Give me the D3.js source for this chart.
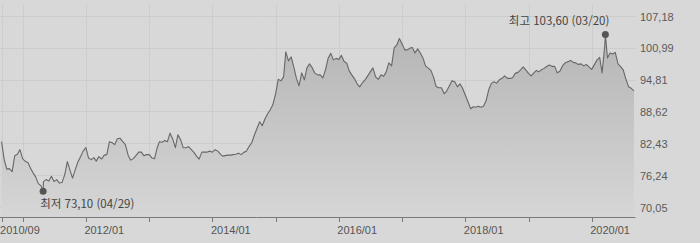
<html lang="ko">
<head>
    <meta charset="UTF-8">
    <title>Index chart</title>
    <style>
        body { margin: 0; background: #d8d8d8; }
        svg { display: block; font-family: "Liberation Sans", Arial, sans-serif; }
    </style>
</head>
<body>
    <div id="graph"></div>
    <script src="https://d3js.org/d3.v7.min.js"></script>
    <script>
        // semi-monthly closes (1st and 16th of each month)
        var values2010 = [82.75, 79.26, 77.41, 77.51, 76.93, 80.03, 80.32, 81.19];
        var values2011 = [79.39, 78.93, 78.67, 77.51, 76.74, 75.96, 74.60, 74.20, 74.99, 75.38, 75.09, 76.02,
                          74.99, 75.38, 74.70, 74.80, 76.35, 78.87, 77.22, 75.67, 77.32, 78.81, 79.84, 80.91];
        var values2012 = [81.58, 79.59, 79.26, 79.64, 78.97, 79.84, 79.39, 80.13, 80.23, 82.75, 82.55, 82.17,
                          83.33, 83.43, 82.75, 82.17, 80.13, 79.16, 79.45, 80.03, 80.71, 80.71, 80.03, 80.23];
        var values2013 = [80.23, 79.59, 79.45, 81.58, 82.75, 82.65, 83.00, 82.75, 84.40, 83.33, 81.58, 84.10,
                          83.14, 81.58, 81.58, 81.78, 81.20, 80.67, 79.94, 79.35, 80.71, 80.71, 80.71, 80.91];
        var values2014 = [80.71, 81.20, 80.91, 80.32, 79.94, 80.03, 80.13, 80.13, 80.23, 80.32, 80.52, 80.23,
                          80.67, 80.87, 81.84, 82.55, 84.10, 85.36, 86.62, 85.85, 87.21, 88.18, 88.95, 89.92];
        var values2015 = [92.05, 94.87, 94.57, 95.35, 100.20, 98.45, 99.23, 97.29, 95.10, 93.60, 96.13, 94.77,
                          97.09, 97.87, 97.09, 96.07, 95.74, 95.74, 95.16, 96.71, 99.03, 99.91, 98.65, 98.94];
        var values2016 = [98.74, 99.52, 98.32, 98.01, 96.51, 95.74, 94.96, 93.99, 93.41, 94.19, 94.77, 95.54,
                          96.32, 97.09, 95.35, 94.87, 95.74, 95.45, 96.32, 98.07, 97.48, 100.97, 101.55, 102.81];
        var values2017 = [101.75, 100.59, 100.59, 100.97, 101.07, 100.00, 100.78, 100.00, 99.03, 97.48, 97.04, 96.61,
                          95.35, 93.47, 93.22, 93.22, 92.05, 92.63, 93.60, 94.57, 94.38, 93.41, 93.99, 93.12];
        var values2018 = [91.76, 90.50, 89.14, 89.53, 89.44, 89.63, 89.44, 89.63, 90.70, 92.83, 94.13, 94.38,
                          94.13, 94.77, 95.06, 95.54, 95.06, 95.06, 95.16, 96.03, 96.22, 96.71, 97.29, 96.71];
        var values2019 = [96.03, 95.54, 96.13, 96.61, 96.32, 96.71, 97.00, 97.35, 97.64, 97.39, 97.39, 96.13,
                          96.42, 97.48, 98.07, 98.30, 98.55, 98.16, 98.07, 97.77, 97.87, 97.48, 97.77, 97.29];
        var values2020 = [96.80, 97.68, 98.65, 99.13, 96.13, 101.17, 99.03, 100.00, 99.81, 100.10, 97.87, 97.35,
                          96.71, 94.96, 93.41, 93.12, 92.63];

        var yearly = [[2010, 8, values2010], [2011, 0, values2011], [2012, 0, values2012], [2013, 0, values2013],
                      [2014, 0, values2014], [2015, 0, values2015], [2016, 0, values2016], [2017, 0, values2017],
                      [2018, 0, values2018], [2019, 0, values2019], [2020, 0, values2020]];

        // low / high of the period
        var lowPoint = { date: "2011-04-29", value: 73.10, label: "최저" };
        var highPoint = { date: "2020-03-20", value: 103.60, label: "최고" };

        var yTicks = [70.05, 76.24, 82.43, 88.62, 94.81, 100.99, 107.18];
        var xTicks = ["2010-09-01", "2011-01-01", "2012-01-01", "2013-01-01", "2014-01-01", "2015-01-01",
                      "2016-01-01", "2017-01-01", "2018-01-01", "2019-01-01", "2020-01-01"];
        var xTickLabels = ["2010-09-01", "2012-01-01", "2014-01-01", "2016-01-01", "2018-01-01", "2020-01-01"];

        var parse = d3.timeParse("%Y-%m-%d");
        var data = [];
        yearly.forEach(function(y) {
            y[2].forEach(function(v, i) {
                data.push({ date: new Date(y[0], y[1] + Math.floor(i / 2), i % 2 ? 16 : 1), value: v });
            });
        });
        [lowPoint, highPoint].forEach(function(p) {
            p.d = parse(p.date);
            data.push({ date: p.d, value: p.value });
        });
        data.sort(function(a, b) { return a.date - b.date; });

        var width = 700, height = 243;
        var plotRight = 635.5, plotBottom = 217;

        var x = d3.scaleTime()
            .domain([new Date(2011, 0, 1), new Date(2020, 0, 1)])
            .range([22.7, 591.7]);
        var y = d3.scaleLinear().domain([70.05, 107.18]).range([207, 16]);

        var svg = d3.select("#graph").append("svg")
            .attr("width", width)
            .attr("height", height);

        var defs = svg.append("defs");
        var grad = defs.append("linearGradient")
            .attr("id", "fill")
            .attr("gradientUnits", "userSpaceOnUse")
            .attr("x1", 0).attr("y1", 16).attr("x2", 0).attr("y2", plotBottom);
        grad.append("stop").attr("offset", 0).attr("stop-color", "#b2b2b2");
        grad.append("stop").attr("offset", 1).attr("stop-color", "#d6d6d6");

        // grid
        svg.append("g").selectAll("line")
            .data(yTicks)
            .enter().append("line")
            .attr("x1", 0).attr("x2", plotRight)
            .attr("y1", function(d) { return Math.round(y(d)) + 0.5; })
            .attr("y2", function(d) { return Math.round(y(d)) + 0.5; })
            .attr("stroke", "#cdcdcd");
        svg.append("g").selectAll("line")
            .data(xTicks)
            .enter().append("line")
            .attr("x1", function(d) { return Math.round(x(parse(d))) + 0.5; })
            .attr("x2", function(d) { return Math.round(x(parse(d))) + 0.5; })
            .attr("y1", 4).attr("y2", plotBottom)
            .attr("stroke", "#cdcdcd");

        // area + line
        svg.append("path")
            .datum(data)
            .attr("fill", "url(#fill)")
            .attr("d", d3.area()
                .x(function(d) { return x(d.date); })
                .y0(plotBottom)
                .y1(function(d) { return y(d.value); }));
        svg.append("path")
            .datum(data)
            .attr("fill", "none")
            .attr("stroke", "#676767")
            .attr("stroke-width", 1.1)
            .attr("stroke-linejoin", "round")
            .attr("d", d3.line()
                .x(function(d) { return x(d.date); })
                .y(function(d) { return y(d.value); }));

        // x axis
        svg.append("line")
            .attr("x1", 0).attr("x2", plotRight)
            .attr("y1", plotBottom + 0.5).attr("y2", plotBottom + 0.5)
            .attr("stroke", "#7a7a7a");
        svg.append("g").selectAll("line")
            .data(xTicks)
            .enter().append("line")
            .attr("x1", function(d) { return Math.round(x(parse(d))) + 0.5; })
            .attr("x2", function(d) { return Math.round(x(parse(d))) + 0.5; })
            .attr("y1", plotBottom).attr("y2", plotBottom + 5)
            .attr("stroke", "#7a7a7a");
        svg.append("g").selectAll("text")
            .data(xTickLabels)
            .enter().append("text")
            .attr("x", function(d) { return x(parse(d)) - 1.5; })
            .attr("y", 234)
            .attr("font-size", 11)
            .attr("fill", "#555")
            .text(function(d) { return d3.timeFormat("%Y/%m")(parse(d)); });

        // y labels
        var fmt = function(v) { return d3.format(".2f")(v).replace(".", ","); };
        svg.append("g").selectAll("text")
            .data(yTicks)
            .enter().append("text")
            .attr("x", 640)
            .attr("y", function(d) { return y(d) + 4.5; })
            .attr("font-size", 11)
            .attr("fill", "#5a5a5a")
            .text(fmt);

        // extremes
        var marks = [
            { p: lowPoint, anchor: "start", dx: -3, dy: 17 },
            { p: highPoint, anchor: "end", dx: 4, dy: -9 }
        ];
        svg.append("g").selectAll("circle")
            .data(marks)
            .enter().append("circle")
            .attr("cx", function(d) { return x(d.p.d); })
            .attr("cy", function(d) { return y(d.p.value); })
            .attr("r", 3.5)
            .attr("fill", "#555");
        svg.append("g").selectAll("text")
            .data(marks)
            .enter().append("text")
            .attr("x", function(d) { return x(d.p.d) + d.dx; })
            .attr("y", function(d) { return y(d.p.value) + d.dy; })
            .attr("text-anchor", function(d) { return d.anchor; })
            .attr("font-family", "'Noto Sans CJK KR', 'Liberation Sans', sans-serif")
            .attr("font-size", 11.5)
            .attr("fill", "#444")
            .text(function(d) {
                return d.p.label + " " + fmt(d.p.value) + " (" + d3.timeFormat("%m/%d")(d.p.d) + ")";
            });
    </script>
</body>
</html>
